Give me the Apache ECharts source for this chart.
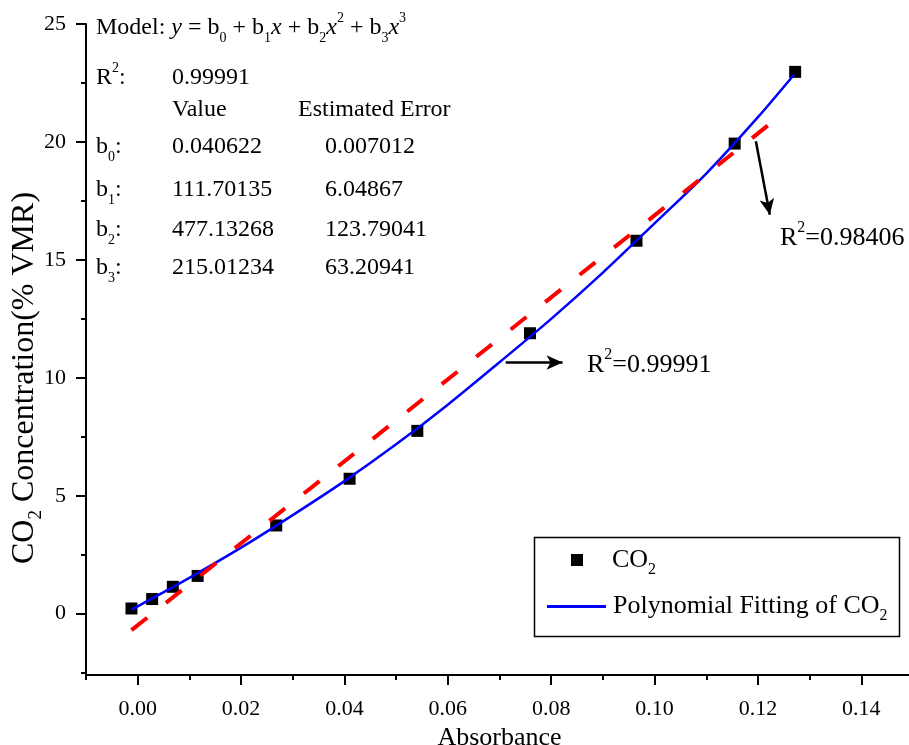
<!DOCTYPE html>
<html>
<head>
<meta charset="utf-8">
<script src="https://cdn.jsdelivr.net/npm/echarts@6/dist/echarts.min.js"></script>
<style>
  html, body { margin: 0; padding: 0; background: #fff; }
  #main { width: 909px; height: 745px; }
</style>
</head>
<body>
<div id="main"></div>
<script>
// measured CO2 points
var absorbance = [-0.0012, 0.0028, 0.0068, 0.0116, 0.0268, 0.0410, 0.0541, 0.0759, 0.0965, 0.1155, 0.1272];
var co2 = [0.22, 0.62, 1.14, 1.60, 3.74, 5.72, 7.75, 11.89, 15.81, 19.93, 22.97];

// polynomial fit curve
var fitX = [-0.0012, 0.00, 0.01, 0.02, 0.03, 0.04, 0.05, 0.06, 0.07, 0.08, 0.09, 0.10, 0.11, 0.12, 0.127];
var fitY = [0.17, 0.31, 1.52, 2.80, 4.18, 5.62, 7.18, 8.86, 10.66, 12.50, 14.46, 16.55, 18.66, 21.05, 22.86];

// linear fit (red dashed)
var linX = [-0.0012, 0.1254];
var linY = [-0.70, 21.30];

// arrows [x1, y1, x2, y2]
var arrow1 = [0.0712, 10.65, 0.0822, 10.65];
var arrow2 = [0.1196, 20.03, 0.1223, 16.91];

var xMajor = [0, 0.02, 0.04, 0.06, 0.08, 0.10, 0.12, 0.14];
var xMinor = [-0.01, 0.01, 0.03, 0.05, 0.07, 0.09, 0.11, 0.13, 0.15];
var yMajor = [0, 5, 10, 15, 20, 25];
var yMinor = [-2.5, 2.5, 7.5, 12.5, 17.5, 22.5];

var coefNames = ['0', '1', '2', '3'];
var coefValues = ['0.040622', '111.70135', '477.13268', '215.01234'];
var coefErrors = ['0.007012', '6.04867', '123.79041', '63.20941'];
var r2Poly = '0.99991';
var r2Lin = '0.98406';

var FONT = '"Liberation Serif", "Times New Roman", serif';

function zip(a, b) {
  return a.map(function (v, i) { return [v, b[i]]; });
}

function richSet(size, lh) {
  var s = Math.round(size * 0.6);
  return {
    n: { fontSize: size, fontFamily: FONT, color: '#000', lineHeight: lh, verticalAlign: 'middle' },
    i: { fontSize: size, fontFamily: FONT, color: '#000', lineHeight: lh, verticalAlign: 'middle', fontStyle: 'italic' },
    sub: { fontSize: s, fontFamily: FONT, color: '#000', lineHeight: s, verticalAlign: 'bottom' },
    sup: { fontSize: s, fontFamily: FONT, color: '#000', lineHeight: s, verticalAlign: 'top' }
  };
}

function txt(x, y, text, size, lh, extra) {
  var el = {
    type: 'text',
    x: x,
    y: y,
    style: {
      text: text,
      rich: richSet(size, lh || size + 10),
      fontSize: size,
      fontFamily: FONT,
      fill: '#000',
      align: 'left',
      verticalAlign: 'middle'
    }
  };
  if (extra) for (var k in extra) el[k] = extra[k];
  return el;
}

var graphics = [];
graphics.push(txt(96, 28, '{n|Model: }{i|y}{n| = b}{sub|0}{n| + b}{sub|1}{i|x}{n| + b}{sub|2}{i|x}{sup|2}{n| + b}{sub|3}{i|x}{sup|3}', 24, 34));
graphics.push(txt(96, 78, '{n|R}{sup|2}{n|:}', 24, 34));
graphics.push(txt(172, 78, '{n|' + r2Poly + '}', 24, 34));
graphics.push(txt(172, 110, '{n|Value}', 24, 34));
graphics.push(txt(298, 110, '{n|Estimated Error}', 24, 34));
var rowY = [147, 190, 230, 268];
coefNames.forEach(function (c, i) {
  graphics.push(txt(96, rowY[i], '{n|b}{sub|' + c + '}{n|:}', 24, 34));
  graphics.push(txt(172, rowY[i], '{n|' + coefValues[i] + '}', 24, 34));
  graphics.push(txt(325, rowY[i], '{n|' + coefErrors[i] + '}', 24, 34));
});
graphics.push(txt(587, 365, '{n|R}{sup|2}{n|=' + r2Poly + '}', 26, 36));
graphics.push(txt(780, 238, '{n|R}{sup|2}{n|=' + r2Lin + '}', 26, 36));

// y axis title
var yTitle = txt(25, 378, '{n|CO}{sub|2}{n| Concentration(% VMR)}', 32, 42, { rotation: Math.PI / 2 });
yTitle.style.align = 'center';
graphics.push(yTitle);

// legend
graphics.push({
  type: 'rect',
  shape: { x: 534.5, y: 537.5, width: 365, height: 99 },
  style: { fill: 'none', stroke: '#000', lineWidth: 1.5 }
});
graphics.push({
  type: 'rect',
  shape: { x: 571, y: 554, width: 12, height: 12 },
  style: { fill: '#000' }
});
graphics.push(txt(612, 560, '{n|CO}{sub|2}', 26, 36));
graphics.push({
  type: 'line',
  shape: { x1: 547, y1: 606.5, x2: 606, y2: 606.5 },
  style: { stroke: '#0000ff', lineWidth: 3 }
});
graphics.push(txt(613, 606, '{n|Polynomial Fitting of CO}{sub|2}', 26, 36));

var axisText = { color: '#000', fontFamily: FONT, fontSize: 22 };

var myChart = echarts.init(document.getElementById('main'));
var option = {
  animation: false,
  backgroundColor: '#fff',
  grid: { left: 86, right: -4, top: 24, bottom: 70, containLabel: false, outerBoundsMode: 'none' },
  xAxis: [
    {
      type: 'value',
      min: -0.01,
      max: 0.15,
      name: 'Absorbance',
      nameLocation: 'middle',
      nameGap: 42,
      nameTextStyle: { color: '#000', fontFamily: FONT, fontSize: 26 },
      axisLine: { onZero: false, lineStyle: { color: '#000', width: 2 } },
      axisTick: { inside: false, length: 10, customValues: xMajor, lineStyle: { color: '#000', width: 2 } },
      axisLabel: Object.assign({ customValues: xMajor, margin: 23, formatter: function (v) { return v.toFixed(2); } }, axisText),
      splitLine: { show: false }
    },
    {
      type: 'value',
      min: -0.01,
      max: 0.15,
      position: 'bottom',
      axisLine: { show: false, onZero: false },
      axisTick: { inside: false, length: 5, customValues: xMinor, lineStyle: { color: '#000', width: 2 } },
      axisLabel: { show: false },
      splitLine: { show: false }
    }
  ],
  yAxis: [
    {
      type: 'value',
      min: -2.6,
      max: 25,
      axisLine: { onZero: false, lineStyle: { color: '#000', width: 2 } },
      axisTick: { inside: false, length: 10, customValues: yMajor, lineStyle: { color: '#000', width: 2 } },
      axisLabel: Object.assign({ customValues: yMajor, margin: 20 }, axisText),
      splitLine: { show: false }
    },
    {
      type: 'value',
      min: -2.6,
      max: 25,
      position: 'left',
      axisLine: { show: false, onZero: false },
      axisTick: { inside: false, length: 5, customValues: yMinor, lineStyle: { color: '#000', width: 2 } },
      axisLabel: { show: false },
      splitLine: { show: false }
    }
  ],
  series: [
    {
      name: 'CO2',
      type: 'scatter',
      symbol: 'rect',
      symbolSize: 12,
      itemStyle: { color: '#000', opacity: 1 },
      data: zip(absorbance, co2),
      z: 2,
      markLine: {
        silent: true,
        symbol: ['none', 'arrow'],
        symbolSize: [11, 16],
        label: { show: false },
        lineStyle: { color: '#000', width: 2.5, type: 'solid' },
        data: [
          [{ coord: [arrow1[0], arrow1[1]] }, { coord: [arrow1[2], arrow1[3]] }],
          [{ coord: [arrow2[0], arrow2[1]] }, { coord: [arrow2[2], arrow2[3]] }]
        ]
      }
    },
    {
      name: 'Polynomial Fitting of CO2',
      type: 'line',
      smooth: 0.3,
      symbol: 'none',
      lineStyle: { color: '#0000ff', width: 2.5 },
      data: zip(fitX, fitY),
      z: 3
    },
    {
      name: 'Linear Fitting',
      type: 'line',
      symbol: 'none',
      lineStyle: { color: '#ff0000', width: 4, type: [20, 24] },
      data: zip(linX, linY),
      z: 4
    }
  ],
  graphic: graphics
};
myChart.setOption(option);
</script>
</body>
</html>
